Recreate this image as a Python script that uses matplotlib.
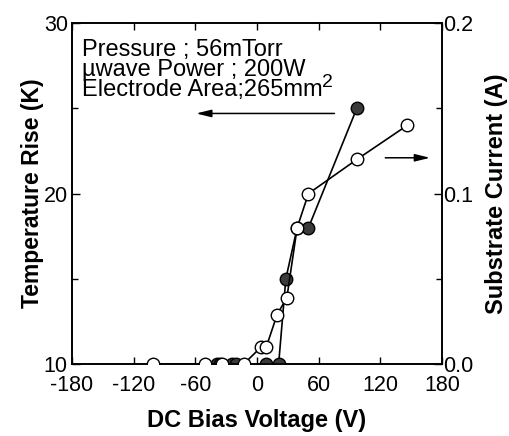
import matplotlib
matplotlib.use("Agg")
import matplotlib.pyplot as plt
from matplotlib.ticker import MultipleLocator, FormatStrFormatter

# temperature rise (filled, left axis)
v_temp = [-39, -36, -24, -20, 9, 21, 28, 39, 50, 97]
temp_rise = [10, 10, 10, 10, 10, 10, 15, 18, 18, 25]

# substrate current (open, right axis)
v_cur = [-101, -51, -34, -13, 4, 9, 19.5, 29, 39, 50, 97, 146]
current = [0, 0, 0, 0, 0.01, 0.01, 0.029, 0.039, 0.08, 0.1, 0.12, 0.14]

x_ticks = [-180, -120, -60, 0, 60, 120, 180]
info_lines = ["Pressure ; 56mTorr", "\u00b5wave Power ; 200W", "Electrode Area;265mm"]

plt.rcParams["font.family"] = ["Liberation Sans", "DejaVu Sans"]
plt.rcParams["axes.unicode_minus"] = False

fig = plt.figure(figsize=(5.1, 4.36), dpi=100)
ax = fig.add_axes([0.141, 0.165, 0.726, 0.782])
ax2 = ax.twinx()

ax.plot(v_temp, temp_rise, color="black", linewidth=1.2, marker="o", markersize=9,
        markerfacecolor="#3a3a3a", markeredgecolor="black", markeredgewidth=1.0, zorder=3)
ax2.plot(v_cur, current, color="black", linewidth=1.2, marker="o", markersize=9,
         markerfacecolor="white", markeredgecolor="black", markeredgewidth=1.0, zorder=3)

ax.set_xlim(-180, 180)
ax.set_ylim(10, 30)
ax2.set_ylim(0, 0.2)

ax.set_xticks(x_ticks)
ax.yaxis.set_major_locator(MultipleLocator(10))
ax.yaxis.set_minor_locator(MultipleLocator(5))
ax2.yaxis.set_major_locator(MultipleLocator(0.1))
ax2.yaxis.set_minor_locator(MultipleLocator(0.05))
ax2.yaxis.set_major_formatter(FormatStrFormatter("%.1f"))

ax.tick_params(axis="both", which="both", direction="in", labelsize=15.5, width=1.0)
ax.tick_params(axis="x", top=True, length=5, pad=8)
ax.tick_params(axis="y", which="major", length=6, pad=3)
ax.tick_params(axis="y", which="minor", length=4)
ax2.tick_params(axis="y", which="both", direction="in", labelsize=15.5, width=1.0, pad=1)
ax2.tick_params(axis="y", which="major", length=6)
ax2.tick_params(axis="y", which="minor", length=4)

for a in (ax, ax2):
    for s in a.spines.values():
        s.set_linewidth(1.2)

ax.set_xlabel("DC Bias Voltage (V)", fontsize=17, fontweight="bold", labelpad=9)
ax.set_ylabel("Temperature Rise (K)", fontsize=16.5, fontweight="bold", labelpad=0)
ax2.set_ylabel("Substrate Current (A)", fontsize=17, fontweight="bold", labelpad=8)

for i, line in enumerate(info_lines):
    ax.text(-170, 28.06 - 1.18 * i, line, fontsize=17, va="baseline", ha="left")
ax.text(63, 26.25, "2", fontsize=14, va="baseline", ha="left")

ax.annotate("", xy=(-62, 24.7), xytext=(78, 24.7),
            arrowprops=dict(arrowstyle="-|>,head_length=0.9,head_width=0.22",
                            color="black", lw=1.1))
ax2.annotate("", xy=(171, 0.121), xytext=(122, 0.121),
             arrowprops=dict(arrowstyle="-|>,head_length=0.9,head_width=0.22",
                             color="black", lw=1.1))

fig.savefig("out.png", dpi=100)
